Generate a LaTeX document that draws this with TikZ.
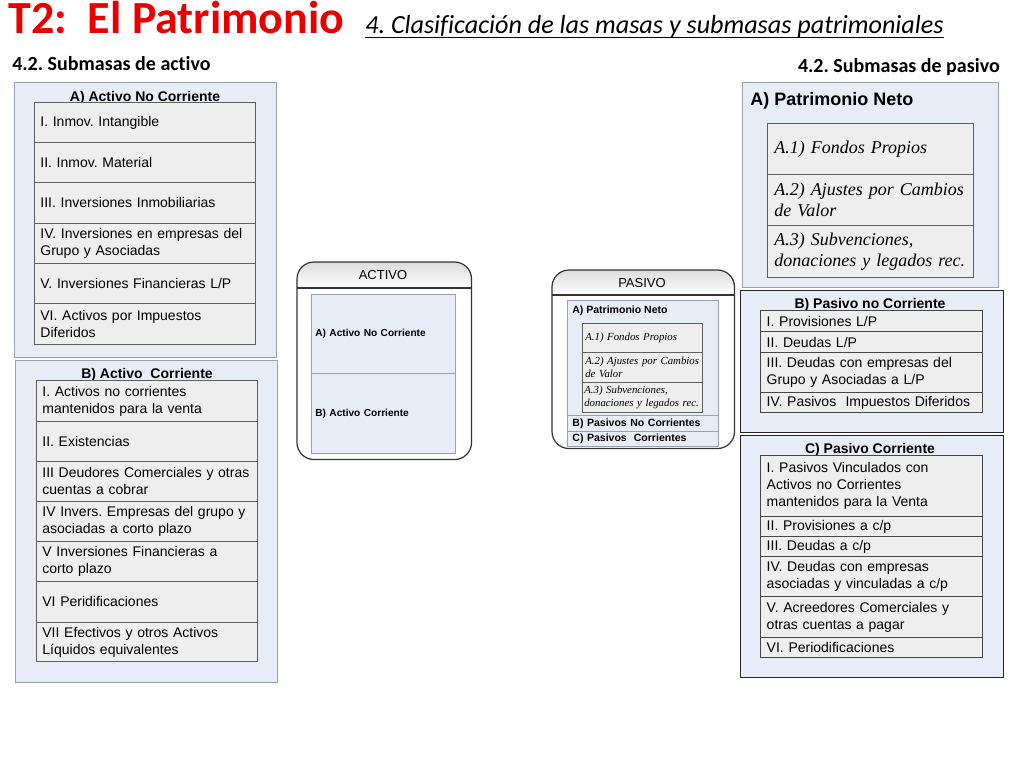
\documentclass[tikz,border=0pt]{standalone}
\usepackage{fontspec}
\setmainfont{Liberation Sans}
\newfontfamily\calfont{Carlito}[Ligatures=NoCommon]
\newfontfamily\tmsfont{Liberation Serif}
\definecolor{panelfill}{RGB}{232,236,247}
\definecolor{paneldraw}{RGB}{155,160,175}
\definecolor{cellfill}{RGB}{238,238,238}
\definecolor{celldraw}{RGB}{95,95,95}
\definecolor{celldark}{RGB}{70,70,70}
\definecolor{titlered}{RGB}{232,0,0}
\newcommand\fs[2]{\fontsize{#1}{#2}\selectfont}
% name, x, y (top), width, height, left inset (px), style, text
\newcommand\tcell[8]{%
 \pgfmathsetlengthmacro\cw{#4*0.75pt}%
 \pgfmathsetlengthmacro\ch{#5*0.75pt}%
 \pgfmathsetlengthmacro\ci{#6*0.75pt}%
 \pgfmathsetlengthmacro\tw{(#4-2*#6)*0.75pt}%
 \node[#7, anchor=north west, inner xsep=\ci, inner ysep=0pt, minimum width=\cw, minimum height=\ch, text width=\tw] (#1) at (#2,#3) {#8};}
\tikzset{
 panel/.style={draw=paneldraw, fill=panelfill, line width=0.8pt},
 panelR/.style={draw=black!85, fill=panelfill, line width=0.8pt},
 cellL/.style={draw=celldraw, fill=cellfill, line width=0.6pt, align=left, font=\fs{10.5}{12.75}},
 cellR/.style={draw=celldark, fill=cellfill, line width=1.1pt, align=left, font=\fs{10.5}{12.75}},
 cellA/.style={draw=celldraw, fill=cellfill, line width=0.6pt, align=left, font=\tmsfont\itshape\fs{13.5}{15.75}},
 cellS/.style={draw=celldraw, fill=cellfill, line width=0.5pt, align=left, font=\tmsfont\itshape\fs{8.1}{9.3}},
 midcell/.style={draw=paneldraw, fill=panelfill, line width=0.6pt, align=left, font=\bfseries\fs{7.6}{9}},
 ptitle/.style={font=\bfseries\fs{10.5}{12}, inner sep=0pt},
 rbox/.style={fill=white, draw=none, inner sep=0pt},
 rborder/.style={draw=black!80, line width=0.9pt, rounded corners=12.75pt},
 headshade/.style={top color=black!14, bottom color=white, draw=none},
}
\frenchspacing
\begin{document}
\frenchspacing
\begin{tikzpicture}[x=0.75pt,y=-0.75pt]
\fill[white] (0,0) rectangle (1024,768);
\useasboundingbox (0,0) rectangle (1024,768);

% titles
\node[anchor=base west, inner sep=0pt, font=\calfont\bfseries\fs{34.5}{34}, text=titlered] (title) at (8,33) {T2:\ \ El Patrimonio};
\node[anchor=base west, inner sep=0pt, font=\calfont\itshape\fs{19.6}{19}] (sub) at (365,33) {4. Clasificación de las masas y submasas patrimoniales};
\draw[line width=1.1pt] ([yshift=-3.2pt]sub.base west) -- ([yshift=-3.2pt]sub.base east);
\node[anchor=base west, inner sep=0pt, font=\calfont\bfseries\fs{15}{15}] (h1) at (12,70) {4.2. Submasas de activo};
\node[anchor=base east, inner sep=0pt, font=\calfont\bfseries\fs{15}{15}] (h2) at (1000,72) {4.2. Submasas de pasivo};

% ---------- left panel A ----------
\tcell{pA}{14}{82}{262}{275}{0}{panel}{}
\node[ptitle, anchor=base] (pAt) at (145,101) {A) Activo No Corriente};
\tcell{a1}{34}{102}{221}{40}{6}{cellL}{I. Inmov. Intangible}
\tcell{a2}{34}{142}{221}{40}{6}{cellL}{II. Inmov. Material}
\tcell{a3}{34}{182}{221}{41}{6}{cellL}{III. Inversiones Inmobiliarias}
\tcell{a4}{34}{223}{221}{40}{6}{cellL}{IV. Inversiones en empresas del\\Grupo y Asociadas}
\tcell{a5}{34}{263}{221}{40}{6}{cellL}{V. Inversiones Financieras L/P}
\tcell{a6}{34}{303}{221}{41}{6}{cellL}{VI. Activos por Impuestos\\Diferidos}

% ---------- left panel B ----------
\tcell{pB}{15}{360}{262}{322}{0}{panel}{}
\node[ptitle, anchor=base] (pBt) at (147,378) {B) Activo~ Corriente};
\tcell{b1}{36}{380}{221}{41}{6}{cellL}{I. Activos no corrientes\\mantenidos para la venta}
\tcell{b2}{36}{421}{221}{40}{6}{cellL}{II. Existencias}
\tcell{b3}{36}{461}{221}{40}{6}{cellL}{III Deudores Comerciales y otras\\cuentas a cobrar}
\tcell{b4}{36}{501}{221}{40}{6}{cellL}{IV Invers. Empresas del grupo y\\asociadas a corto plazo}
\tcell{b5}{36}{541}{221}{40}{6}{cellL}{V Inversiones Financieras a\\corto plazo}
\tcell{b6}{36}{581}{221}{41}{6}{cellL}{VI Peridificaciones}
\tcell{b7}{36}{622}{221}{39}{6}{cellL}{VII Efectivos y otros Activos\\Líquidos equivalentes}

% ---------- ACTIVO box ----------
\tcell{act}{297}{262}{174}{197}{0}{rbox}{}
\fill[headshade] (297,288) [rounded corners=12.75pt]-- (297,262) -- (471,262) [sharp corners]-- (471,288) -- cycle;
\draw[rborder] (act.north west) rectangle (act.south east);
\draw[draw=black!80, line width=0.8pt] (act.west |- 0,288) -- (act.east |- 0,288);
\node[inner sep=0pt, font=\fs{9.75}{10}] (actt) at (383,275) {ACTIVO};
\tcell{actA}{311}{294}{144}{79}{4}{midcell}{A) Activo No Corriente}
\tcell{actB}{311}{373}{144}{80}{4}{midcell}{B) Activo Corriente}

% ---------- PASIVO box ----------
\tcell{pas}{552}{270}{182}{178}{0}{rbox}{}
\fill[headshade] (552,295) [rounded corners=12.75pt]-- (552,270) -- (734,270) [sharp corners]-- (734,295) -- cycle;
\draw[rborder] (pas.north west) rectangle (pas.south east);
\draw[draw=black!80, line width=0.8pt] (pas.west |- 0,295) -- (pas.east |- 0,295);
\node[inner sep=0pt, font=\fs{9.75}{10}] (past) at (642,283) {PASIVO};
\tcell{pasA}{567}{300}{151}{115}{5}{midcell}{}
\node[anchor=base west, inner sep=0pt, font=\bfseries\fs{7.9}{9}] (pasAt) at (572,313) {A) Patrimonio Neto};
\tcell{s1}{582}{323}{120}{29}{3}{cellS}{A.1) Fondos Propios}
\tcell{s2}{582}{352}{120}{30}{3}{cellS}{A.2) Ajustes por Cambios\\de Valor}
\tcell{s3}{582}{382}{120}{30}{2}{cellS}{A.3) Subvenciones,\\donaciones y legados rec.}
\tcell{pasB}{567}{415}{151}{16}{5}{midcell, font=\bfseries\fs{7.9}{9}}{B) Pasivos No Corrientes}
\tcell{pasC}{567}{431}{151}{15}{5}{midcell, font=\bfseries\fs{7.9}{9}}{C) Pasivos~ Corrientes}

% ---------- right panel A ----------
\tcell{rA}{742}{82}{256}{205}{0}{panel}{}
\node[anchor=base west, inner sep=0pt, font=\bfseries\fs{13.5}{14}] (rAt) at (750,105) {A) Patrimonio Neto};
\tcell{r1}{767}{123}{206}{51}{7}{cellA}{A.1) Fondos Propios}
\tcell{r2}{767}{174}{206}{51}{7}{cellA}{A.2) Ajustes por Cambios\\de Valor}
\tcell{r3}{767}{225}{206}{52}{7}{cellA}{A.3) Subvenciones,\\donaciones y legados rec.}

% ---------- right panel B ----------
\tcell{rB}{740}{290}{263}{142}{0}{panelR}{}
\node[ptitle, anchor=base] (rBt) at (870,308) {B) Pasivo no Corriente};
\tcell{q1}{760}{310}{222}{21}{6}{cellR}{I. Provisiones L/P}
\tcell{q2}{760}{331}{222}{21}{6}{cellR}{II. Deudas L/P}
\tcell{q3}{760}{352}{222}{40}{6}{cellR}{III. Deudas con empresas del\\Grupo y Asociadas a L/P}
\tcell{q4}{760}{392}{222}{20}{6}{cellR}{IV. Pasivos~ Impuestos Diferidos}

% ---------- right panel C ----------
\tcell{rC}{740}{435}{263}{242}{0}{panelR}{}
\node[ptitle, anchor=base] (rCt) at (870,453) {C) Pasivo Corriente};
\tcell{c1}{760}{455}{222}{61}{6}{cellR}{I. Pasivos Vinculados con\\Activos no Corrientes\\mantenidos para la Venta}
\tcell{c2}{760}{516}{222}{20}{6}{cellR}{II. Provisiones a c/p}
\tcell{c3}{760}{536}{222}{20}{6}{cellR}{III. Deudas a c/p}
\tcell{c4}{760}{556}{222}{40}{6}{cellR}{IV. Deudas con empresas\\asociadas y vinculadas a c/p}
\tcell{c5}{760}{596}{222}{41}{6}{cellR}{V. Acreedores Comerciales y\\otras cuentas a pagar}
\tcell{c6}{760}{637}{222}{20}{6}{cellR}{VI. Periodificaciones}
\end{tikzpicture}
\end{document}
